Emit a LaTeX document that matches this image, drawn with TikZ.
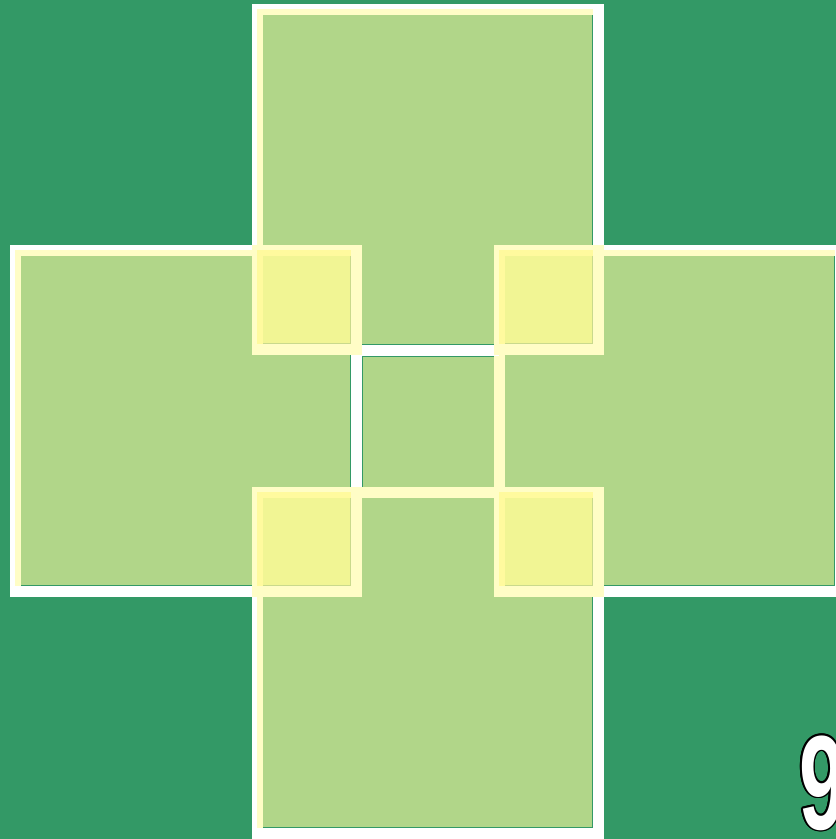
\documentclass[tikz,border=0pt]{standalone}
\usepackage{fontspec}
\setmainfont{Liberation Sans}
\usetikzlibrary{calc}

\definecolor{meadow}{HTML}{339966}
\definecolor{leaf}{HTML}{B1D689}
\definecolor{cream}{HTML}{FFFDC6}
\definecolor{lemon}{HTML}{F1F594}
\definecolor{butter}{HTML}{FFFA9E}
\definecolor{olive}{HTML}{C9D98C}

% framed square: outer corner (#1,#2), side #3
\newcommand\panel[3]{%
  \fill[rim] (#1,#2) rectangle ++(#3,#3);
  \fill[bevel] (#1+5,#2+5) rectangle (#1+#3-11,#2+#3-11);
  \fill[shadow] (#1+11,#2+11) rectangle (#1+#3-11,#2+#3-11);
  \fill[face] (#1+11,#2+11) rectangle (#1+#3-12,#2+#3-12);
}

\begin{document}
\begin{tikzpicture}[x=1pt, y=-1pt,
  rim/.style={fill=white},
  bevel/.style={fill=cream},
  shadow/.style={fill=meadow},
  face/.style={fill=leaf},
  corner/.style={rim/.style={fill=cream}, bevel/.style={fill=butter},
    shadow/.style={fill=olive}, face/.style={fill=lemon}},
  digit/.style={anchor=base west, inner sep=0pt, font=\fontsize{134}{134}\selectfont\bfseries},
]
  \fill[meadow] (0,0) rectangle (836,839);
  \useasboundingbox (0,0) rectangle (836,839);
  \clip (0,0) rectangle (836,839);

  % centre square
  \fill[meadow] (362,356) rectangle (494,487);
  \fill[leaf] (363,357) rectangle (494,487);

  % the four arms
  \foreach \x/\y in {252/4, 10/245, 494/245, 252/487} {\panel{\x}{\y}{352}}

  % pale seams round the centre
  \fill[cream] (362,487) rectangle (494,498);
  \fill[cream] (494,356) rectangle (505,487);

  % overlaps
  \begin{scope}[corner]
    \foreach \x/\y in {252/245, 494/245, 252/487, 494/487} {\panel{\x}{\y}{110}}
  \end{scope}

  % page number, outlined
  \coordinate (numpos) at (799,829);
  \foreach \a in {0,30,...,330}
    \node[digit, text=black] (nine-\a) at ($(numpos)+(\a:1.6)$) {\scalebox{0.62}[1]{9}};
  \node[digit, text=white] (nine) at (numpos) {\scalebox{0.62}[1]{9}};
\end{tikzpicture}
\end{document}
